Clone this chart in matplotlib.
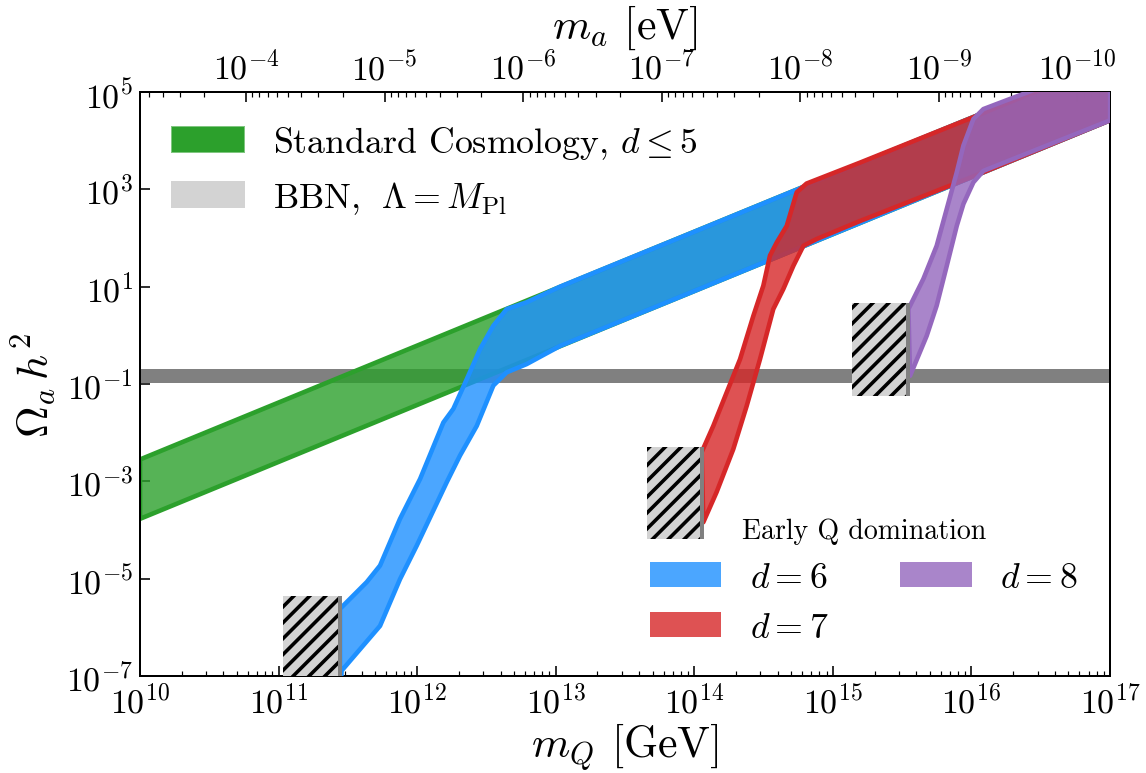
import numpy as np
import matplotlib
matplotlib.use("Agg")
import matplotlib.pyplot as plt
from matplotlib.patches import Patch, Rectangle
from matplotlib.colors import to_rgba
from matplotlib.ticker import LogLocator, NullLocator

plt.rcParams['font.family'] = 'serif'
plt.rcParams['font.serif'] = ['cmr10']
plt.rcParams['mathtext.fontset'] = 'cm'
plt.rcParams['axes.formatter.use_mathtext'] = True
plt.rcParams['hatch.linewidth'] = 1.8

# --- data, all values are log10 ---
# standard cosmology band (d <= 5)
sc_logm = [10, 11, 12, 13, 14, 15, 16, 17]
sc_up = [-2.55, -1.38, -0.21, 0.96, 2.13, 3.30, 4.47, 5.64]
sc_lo = [-3.77, -2.60, -1.43, -0.26, 0.91, 2.08, 3.25, 4.42]

# early Q domination, d = 6
d6_logm_up = [11.443, 11.636, 11.732, 11.876, 12.021, 12.189, 12.261, 12.358,
              12.454, 12.55, 12.646, 12.79, 13.03, 14, 15, 16, 17]
d6_up = [-5.62, -5.07, -4.73, -3.77, -2.95, -1.79, -1.51, -0.90,
         -0.28, 0.20, 0.54, 0.68, 1.0, 2.13, 3.30, 4.47, 5.64]
d6_logm_lo = [11.443, 11.455, 11.732, 11.876, 11.997, 12.213, 12.309, 12.43,
              12.55, 12.646, 12.79, 13.03, 14, 15, 16, 17]
d6_lo = [-7.5, -6.89, -5.97, -5.01, -4.32, -3.02, -2.47, -1.86,
         -1.03, -0.76, -0.59, -0.22, 0.91, 2.08, 3.25, 4.42]

# d = 7
d7_logm_up = [14.053, 14.137, 14.234, 14.33, 14.426, 14.498, 14.546, 14.595,
              14.667, 14.739, 14.81, 15.196, 16, 17]
d7_up = [-2.40, -1.86, -1.17, -0.49, 0.40, 1.02, 1.64, 1.91,
         2.25, 2.94, 3.12, 3.55, 4.47, 5.64]
d7_logm_lo = [14.053, 14.065, 14.161, 14.281, 14.378, 14.474, 14.57, 14.642,
              14.715, 14.787, 14.883, 15.196, 16, 17]
d7_lo = [-2.40, -3.84, -3.22, -2.34, -1.45, -0.49, 0.54, 0.95,
         1.43, 1.84, 1.98, 2.35, 3.25, 4.42]

# d = 8
d8_logm_up = [15.545, 15.653, 15.749, 15.822, 15.894, 15.942, 16.014, 16.086, 17]
d8_up = [0.54, 1.16, 1.84, 2.60, 3.35, 3.90, 4.445, 4.65, 5.64]
d8_logm_lo = [15.545, 15.557, 15.677, 15.749, 15.822, 15.894, 15.942, 16.014, 16.086, 17]
d8_lo = [0.54, -0.83, -0.01, 0.61, 1.43, 2.25, 2.70, 3.145, 3.38, 4.42]

# hatched "early Q domination" boxes: (log m left, log m right), (log Omega bottom, log Omega top)
box_logm = [(11.03, 11.443), (13.659, 14.056), (15.138, 15.542)]
box_logomega = [(-7.25, -5.355), (-4.18, -2.29), (-1.246, 0.665)]

# BBN band
bbn_omega = [0.105, 0.20]

# m_a * m_Q  [eV GeV], sets the top axis
ma_times_mq = 10 ** 6.765


def band(ax, xu, yu, xl, yl, color, z):
    xs = 10 ** np.concatenate([xu, xl[::-1]])
    ys = 10 ** np.concatenate([yu, yl[::-1]])
    ax.fill(xs, ys, facecolor=to_rgba(color, 0.8), edgecolor=color, lw=2.3,
            joinstyle='round', zorder=z)


fig = plt.figure(figsize=(8.0, 5.403), dpi=143.25)
ax = fig.add_axes([0.1222, 0.1253, 0.8464, 0.7545])
ax.set_xscale('log')
ax.set_yscale('log')

ax.axhspan(bbn_omega[0], bbn_omega[1], color='gray', lw=0, zorder=1)

band(ax, sc_logm, sc_up, sc_logm, sc_lo, 'tab:green', 2)
band(ax, d6_logm_up, d6_up, d6_logm_lo, d6_lo, 'dodgerblue', 3)
band(ax, d7_logm_up, d7_up, d7_logm_lo, d7_lo, 'tab:red', 4)
band(ax, d8_logm_up, d8_up, d8_logm_lo, d8_lo, 'tab:purple', 5)

for (xl, xr), (yb, yt) in zip(box_logm, box_logomega):
    ax.add_patch(Rectangle((10 ** xl, 10 ** yb), 10 ** xr - 10 ** xl, 10 ** yt - 10 ** yb,
                           facecolor='lightgray', edgecolor='black', hatch='///', lw=0, zorder=6))
    ax.plot([10 ** xr, 10 ** xr], [10 ** yb, 10 ** yt], color='gray', lw=2, zorder=7,
            solid_capstyle='butt')

ax.set_xlim(1e10, 1e17)
ax.set_ylim(1e-7, 1e5)
ax.set_yticks([1e-7, 1e-5, 1e-3, 1e-1, 1e1, 1e3, 1e5])
ax.yaxis.set_minor_locator(NullLocator())
ax.xaxis.set_major_locator(LogLocator(base=10, numticks=20))
ax.xaxis.set_minor_locator(LogLocator(base=10, subs=np.arange(2, 10), numticks=20))

ax.tick_params(which='both', direction='in', top=False, right=False, labelsize=17)
ax.tick_params(which='major', length=5, width=0.8)
ax.tick_params(which='minor', length=2.5, width=0.6)
for sp in ax.spines.values():
    sp.set_linewidth(1.0)

ax.set_xlabel(r'$m_Q$ [GeV]', fontsize=22, labelpad=1)
ax.set_ylabel(r'$\Omega_a\, h^2$', fontsize=22, labelpad=4)


def to_ma(m):
    m = np.asarray(m, dtype=float)
    with np.errstate(divide='ignore'):
        return ma_times_mq / m


secax = ax.secondary_xaxis('top', functions=(to_ma, to_ma))
secax.tick_params(which='both', direction='in', labelsize=17)
secax.tick_params(which='major', length=5, width=0.8)
secax.tick_params(which='minor', length=2.5, width=0.6)
secax.set_xlabel(r'$m_a$ [eV]', fontsize=22, labelpad=6)

h1 = [Patch(facecolor='tab:green', edgecolor=to_rgba('tab:green', 0.6)),
      Patch(facecolor='lightgray', edgecolor='lightgray')]
leg1 = ax.legend(h1, [r'Standard Cosmology, $d\leq5$', r'BBN, $\;\Lambda=M_{\rm Pl}$'],
                 loc='upper left', frameon=False, fontsize=18)
ax.add_artist(leg1)

h2 = [Patch(facecolor=to_rgba('dodgerblue', 0.8)),
      Patch(facecolor=to_rgba('tab:red', 0.8)),
      Patch(facecolor=to_rgba('tab:purple', 0.8))]
ax.legend(h2, [r'$d=6$', r'$d=7$', r'$d=8$'], loc='lower right', ncol=2,
          frameon=False, fontsize=18, title='Early Q domination', title_fontsize=14)

fig.savefig('out.png', dpi=143.25)
